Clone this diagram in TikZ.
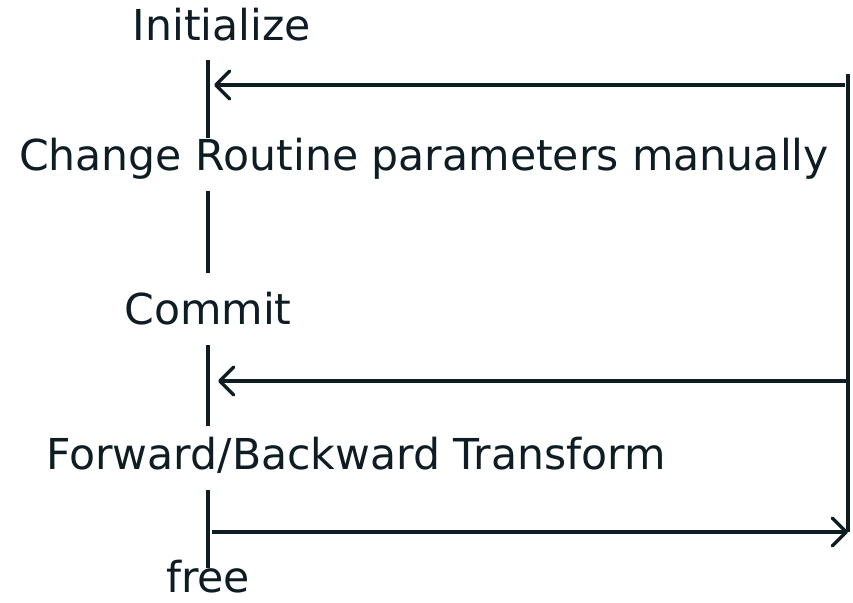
\documentclass[tikz,border=0pt]{standalone}
\usepackage{fontspec}
\setmainfont{DejaVu Sans}
\usetikzlibrary{arrows.meta}
\definecolor{ink}{RGB}{14,28,36}

\begin{document}
\begin{tikzpicture}[x=1pt,y=-1pt,
    step node/.style={text=ink,inner sep=0pt,anchor=base,text height=30pt,text depth=0pt,
                      font=\fontsize{42.6}{50}\selectfont},
    spine/.style={draw=ink,line width=3.5pt},
    flow/.style={draw=ink,line width=3.5pt,-{Straight Barb[length=14pt,width=28pt,round]}}]

  \useasboundingbox (0,0) rectangle (853,602);

  % Define steps
  \node[step node] (init)   at (222,41)  {Initialize};
  \node[step node] (change) at (424,170) {Change Routine parameters manually};
  \node[step node] (commit) at (208,324) {Commit};
  \node[step node] (fwd)    at (356,469) {Forward/Backward Transform};
  \node[step node] (free)   at (208,592) {free};

  % Timeline
  \coordinate (spine) at (208,0);
  \draw[spine, shorten <=19pt, shorten >=2pt]  (init.south -| spine)   -- (change.north -| spine);
  \draw[spine, shorten <=21pt, shorten >=21pt] (change.south -| spine) -- (commit.north -| spine);
  \draw[spine, shorten <=21pt, shorten >=13pt] (commit.south -| spine) -- (fwd.north -| spine);
  \draw[spine, shorten <=21pt, shorten >=-6pt] (fwd.south -| spine)    -- (free.north -| spine);

  % Loops on the right
  \coordinate (busTop) at (848,74);
  \coordinate (busBot) at (848,532);
  \coordinate (retA)   at (845,85);
  \coordinate (retB)   at (848,381);
  \draw[spine] (busTop) -- (busBot);
  \draw[flow, shorten >=6pt]  (retA) -- (retA -| spine);
  \draw[flow, shorten >=10pt] (retB) -- (retB -| spine);
  \draw[flow, shorten <=4pt]  (busBot -| spine) -- (busBot);

\end{tikzpicture}
\end{document}
